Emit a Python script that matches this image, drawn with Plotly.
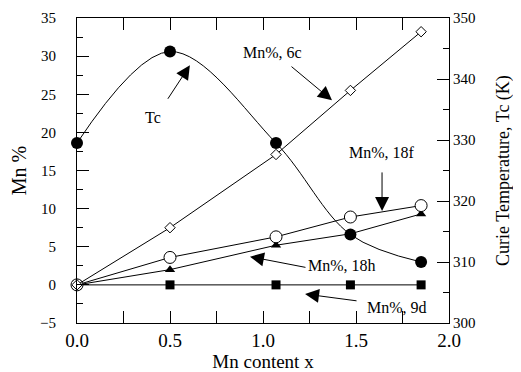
import plotly.graph_objects as go

# Data
mn_x = [0.0, 0.5, 1.07, 1.47, 1.85]
tc_k = [329.5, 344.5, 329.5, 314.5, 310.0]
mn_6c = [0.0, 7.5, 17.1, 25.5, 33.2]
mn_18f = [0.0, 3.6, 6.3, 8.9, 10.4]
mn_18h = [0.0, 2.0, 5.2, 6.7, 9.3]
mn_9d = [0.0, 0.0, 0.0, 0.0, 0.0]
x_ticks = [0.0, 0.5, 1.0, 1.5, 2.0]
x_ticktext = ["0.0", "0.5", "1.0", "1.5", "2.0"]

FONT = "Liberation Serif, Times New Roman, serif"
BLACK = "black"

fig = go.Figure()

fig.add_trace(go.Scatter(x=mn_x, y=mn_9d, mode="lines+markers", cliponaxis=False,
                         line=dict(color=BLACK, width=1),
                         marker=dict(symbol="square", size=9, color=BLACK)))
fig.add_trace(go.Scatter(x=mn_x, y=mn_18h, mode="lines+markers", cliponaxis=False,
                         line=dict(color=BLACK, width=1),
                         marker=dict(symbol="triangle-up", size=9, color=BLACK)))
fig.add_trace(go.Scatter(x=mn_x, y=mn_18f, mode="lines+markers", cliponaxis=False,
                         line=dict(color=BLACK, width=1),
                         marker=dict(symbol="circle", size=12, color="white",
                                     line=dict(color=BLACK, width=1))))
fig.add_trace(go.Scatter(x=mn_x, y=mn_6c, mode="lines+markers", cliponaxis=False,
                         line=dict(color=BLACK, width=1),
                         marker=dict(symbol="diamond", size=8, color="white",
                                     line=dict(color=BLACK, width=1))))
fig.add_trace(go.Scatter(x=mn_x, y=tc_k, yaxis="y2", mode="lines+markers", cliponaxis=False,
                         line=dict(color=BLACK, width=1, shape="spline", smoothing=1.0),
                         marker=dict(symbol="circle", size=12, color=BLACK)))

axis_common = dict(showline=True, linecolor=BLACK, linewidth=1, ticks="inside",
                   tickcolor=BLACK, showgrid=False, zeroline=False, automargin=False,
                   tickfont=dict(family=FONT, size=15, color=BLACK))

fig.update_layout(
    width=513, height=364,
    margin=dict(l=69, r=72, t=10, b=49),
    paper_bgcolor="white", plot_bgcolor="white",
    showlegend=False,
    font=dict(family=FONT, color=BLACK),
    xaxis=dict(range=[0, 2.0], tickvals=x_ticks, ticktext=x_ticktext, ticklen=12,
               mirror="allticks", ticklabelstandoff=0,
               minor=dict(dtick=0.25, ticklen=6, ticks="inside", tickcolor=BLACK),
               title=dict(text="Mn content x", font=dict(family=FONT, size=19), standoff=0),
               **{**axis_common, "tickfont": dict(family=FONT, size=19, color=BLACK)}),
    yaxis=dict(range=[-5, 35], dtick=5, ticklen=12, ticklabelstandoff=17,
               minor=dict(dtick=2.5, ticklen=6, ticks="inside", tickcolor=BLACK),
               title=dict(text="Mn %", font=dict(family=FONT, size=20), standoff=8),
               **axis_common),
    yaxis2=dict(range=[300, 350], dtick=10, ticklen=12, overlaying="y", side="right",
                minor=dict(dtick=5, ticklen=6, ticks="inside", tickcolor=BLACK),
                title=dict(text="Curie Temperature, Tc (K)", font=dict(family=FONT, size=18), standoff=21),
                **axis_common),
)

ann_font = dict(family=FONT, size=16, color=BLACK)
arrows = [
    # (tip x, tip y, ax, ay)
    (0.607, 28.8, -23, 35),
    (1.371, 24.2, -42, -35),
    (1.64, 9.7, 0, -40),
    (0.93, 3.7, 57, 11),
    (1.226, -1.2, 53, 7),
]
for tx, ty, ax, ay in arrows:
    fig.add_annotation(x=tx, y=ty, xref="x", yref="y", text="", showarrow=True,
                       ax=ax, ay=ay, arrowhead=2, arrowsize=2.8, arrowwidth=1,
                       arrowcolor=BLACK)

labels = [
    ("Tc", 0.41, 22.0),
    ("Mn%, 6c", 1.05, 30.5),
    ("Mn%, 18f", 1.64, 17.4),
    ("Mn%, 18h", 1.425, 2.5),
    ("Mn%, 9d", 1.72, -3.0),
]
for t, lx, ly in labels:
    fig.add_annotation(x=lx, y=ly, xref="x", yref="y", text=t, showarrow=False,
                       font=ann_font, bgcolor="rgba(0,0,0,0)")

fig.write_html("out.html")
